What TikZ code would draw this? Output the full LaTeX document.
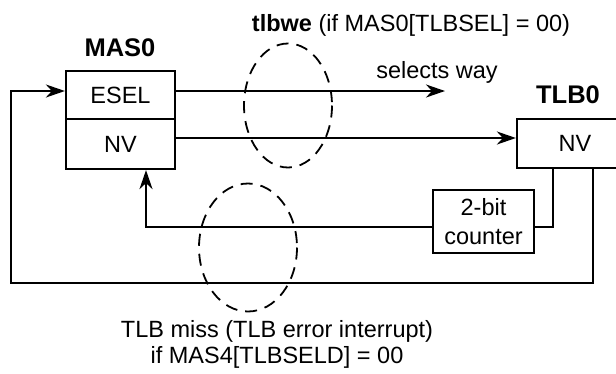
\documentclass[tikz,border=0pt]{standalone}
\usepackage{fontspec}
\setmainfont{Liberation Sans}
\usetikzlibrary{arrows.meta,calc}
\begin{document}
\begin{tikzpicture}[x=1pt,y=-1pt,
  line width=2.2pt,
  txt/.style={font=\fontsize{23.5}{28}\selectfont, inner sep=0pt},
  ttl/.style={font=\fontsize{25.5}{30}\selectfont\bfseries, inner sep=0pt},
  regbox/.style={draw, rectangle, minimum width=109pt, minimum height=48pt, inner sep=0pt, font=\fontsize{23.5}{28}\selectfont},
  arr/.style={-{Stealth[length=19pt,width=13pt,inset=6pt]}},
  lp/.style={draw, dash pattern=on 12pt off 8pt, line width=1.8pt}
]
\useasboundingbox (0,0) rectangle (616,373);
% MAS0
\node[ttl] (mas0lbl) at (120,48) {MAS0};
\node[regbox, minimum height=48pt] (esel) at (120.5,95) {ESEL};
\node[regbox, minimum height=50pt] (nv) at (120.5,144) {NV};
% TLB0
\node[ttl] (tlb0lbl) at (568,95) {TLB0};
\node[regbox, minimum width=116pt, minimum height=49pt] (tnv) at (575,143.5) {NV};
% counter
\node[draw, rectangle, minimum width=101pt, minimum height=63pt, inner sep=0pt, align=center,
  font=\fontsize{23.5}{29}\selectfont] (cnt) at (483.5,221.5) {2-bit\\counter};
% texts
\node[txt] (selt) at (437,72) {selects way};
\node[txt] (top) at (411,25) {\textbf{tlbwe} (if MAS0[TLBSEL] = 00)};
\node[txt, align=center, font=\fontsize{23.5}{26}\selectfont] (bot) at (277,344) {TLB miss (TLB error interrupt)\\if MAS4[TLBSELD] = 00};
% coordinates
\coordinate (selw) at (445,91);
\coordinate (nvy) at (0,138);
\coordinate (cy) at (0,227);
\coordinate (ta) at (553,0);
\coordinate (tb) at (593,0);
\coordinate (fb) at (146,0);
\coordinate (lo) at (11,283);
% connectors
\draw[arr] (esel.east |- selw) -- (selw);
\draw[arr] (nv.east |- nvy) -- (tnv.west |- nvy);
\draw (cnt.east |- cy) -| (tnv.south -| ta);
\draw[arr] (cnt.west |- cy) -| (nv.south -| fb);
\draw[arr] (tnv.south -| tb) |- (lo) |- (esel.west |- selw);
% loops
\draw[lp] (288,105.5) ellipse [x radius=44, y radius=62];
\draw[lp] (248,247.5) ellipse [x radius=49, y radius=64];
\end{tikzpicture}
\end{document}
